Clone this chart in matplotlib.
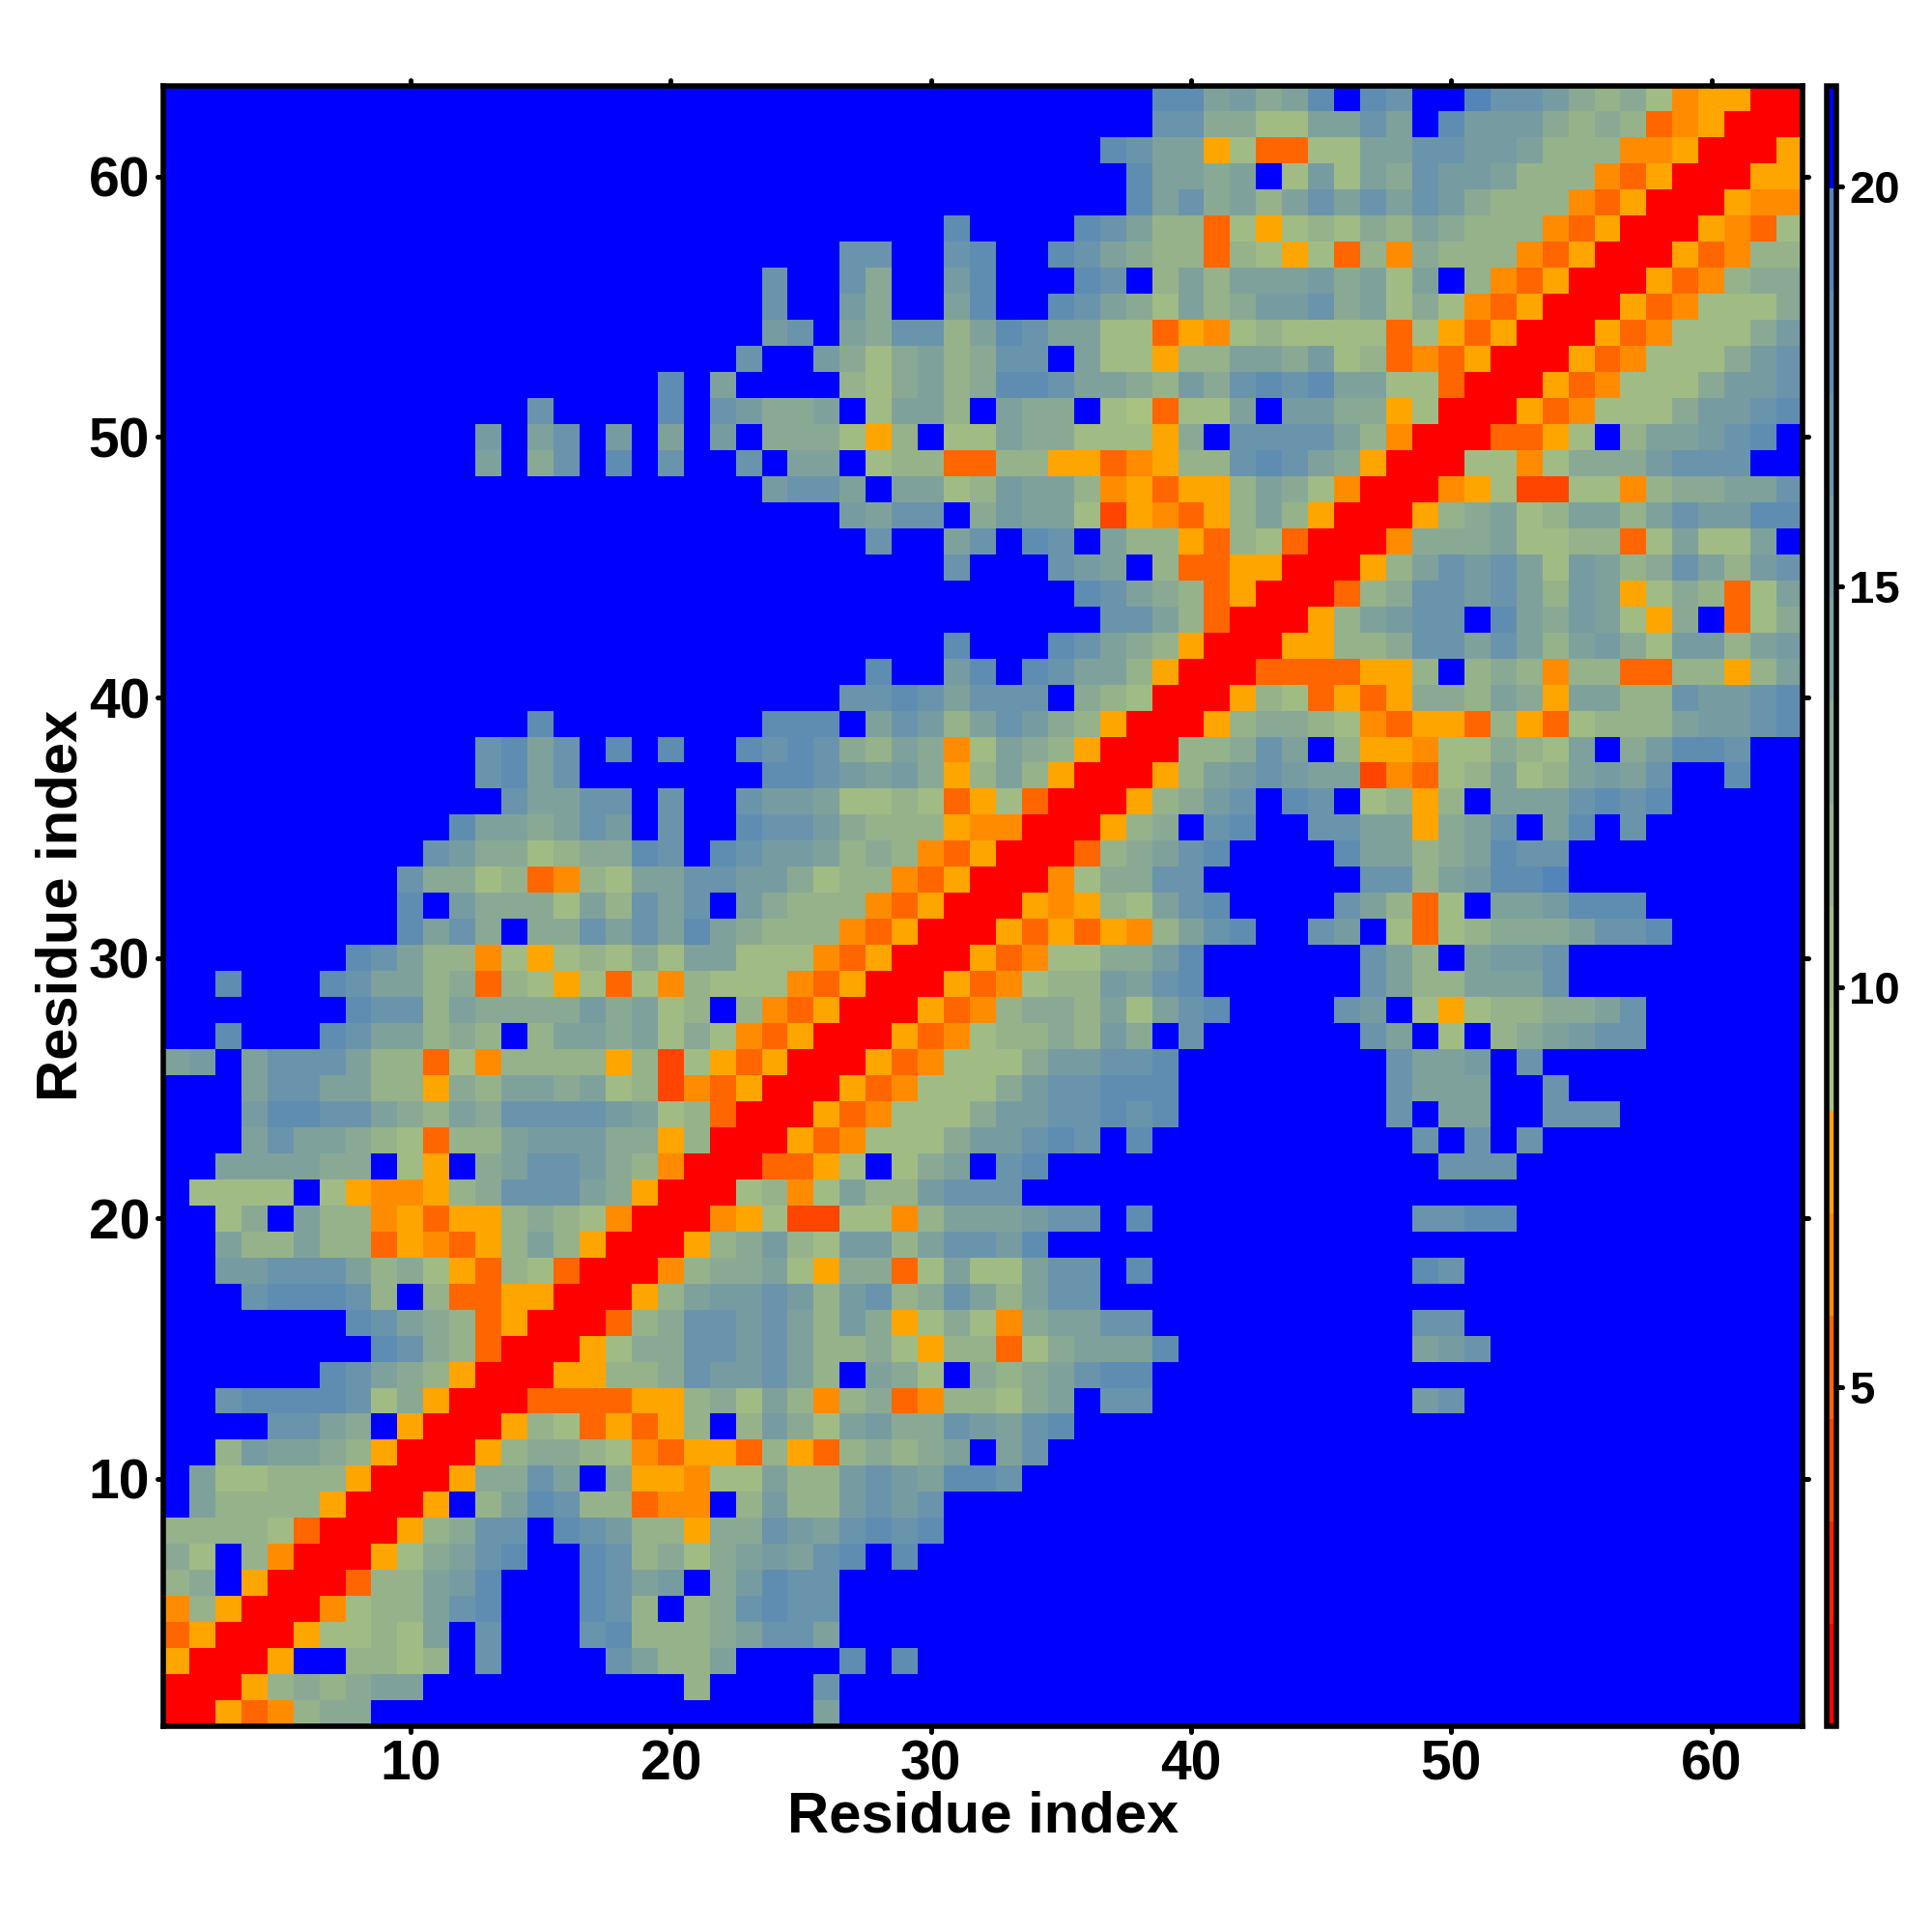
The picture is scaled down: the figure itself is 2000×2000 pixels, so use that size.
import numpy as np
import matplotlib
matplotlib.use("Agg")
import matplotlib.pyplot as plt
from matplotlib.colors import ListedColormap, BoundaryNorm
from matplotlib.markers import MarkerStyle, TICKDOWN, TICKUP, TICKLEFT, TICKRIGHT

plt.rcParams['font.family'] = ['Liberation Sans', 'DejaVu Sans']
plt.rcParams['font.weight'] = 'bold'

# distance value of each colour class, class 0 (red) to class F (blue)
level_values = [1.4, 2.7, 4.0, 5.2, 6.5, 7.8, 9.1, 10.4, 11.7, 13.0, 14.2, 15.5, 16.8, 18.1, 19.3, 20.6]
level_colors = ["#ff0000", "#ff2200", "#ff4500", "#ff6600", "#ff8c00", "#ffa500",
                "#a9c281", "#a1bb85", "#96b28a", "#8aa994", "#7ea29b", "#769ca2",
                "#6a94ab", "#5f8db1", "#5385ba", "#0000ff"]
bar_ticks = [5, 10, 15, 20]
axis_ticks = [10, 20, 30, 40, 50, 60]

# one string per residue, from 63 at the top to 1 at the bottom, read cell by cell
rows = [
    "FFFFFFFFFF FFFFFFFFFF FFFFFFFFFF FFFFFFFFDD AB9ADFDCFF ECCB989745 500",
    "FFFFFFFFFF FFFFFFFFFF FFFFFFFFFF FFFFFFFFCC 9977AACAFD BBB9898345 000",
    "FFFFFFFFFF FFFFFFFFFF FFFFFFFFFF FFFFFFDCAA 57337 7AACC BBA8884450 005",
    "FFFFFFFFFF FFFFFFFFFF FFFFFFFFFF FFFFFFFDAA 9AF7B7A9CB BA88843500 055",
    "FFFFFFFFFF FFFFFFFFFF FFFFFFFFFF FFFFFFFDAC 9A8ACACACB 9888435000 544",
    "FFFFFFFFFF FFFFFFFFFF FFFFFFFFFF DFFFFDCA88 37578798A9 8884350005 437",
    "FFFFFFFFFF FFFFFFFFFF FFFFFFCCFF CDFFDCA988 3875738498 8843500053 488",
    "FFFFFFFFFF FFFFFFFFFF FFFCFFC9FF BDFFFDCF8A 8AAAB9A7AF 8435000534 899",
    "FFFFFFFFFF FFFFFFFFFF FFFCFFB9FF ADFFDCA97A 89BBC9A797 4350005347 779",
    "FFFFFFFFFF FFFFFFFFFF FFFBCFA9CC 8ADCAA7735 4787777375 3500053477 79B",
    "FFFFFFFFFF FFFFFFFFFF FFCFFB979A 89CCFA7758 8AA9B78343 5000534777 9BC",
    "FFFFFFFFFF FFFFFFFFFD FAFFFF879A 89DDCAA98B 9CDCDAA773 0005347779 BBC",
    "FFFFFFFFFF FFFFCFFFFD FCB99AF7AA 8FA99F7637 7AFBB99570 005347779B BCD",
    "FFFFFFFFFF FFBFACFBFA FBF999758F 77A9977759 FCCCCA8400 03357F8AAB CDF",
    "FFFFFFFFFF FFAF9CFDFC FFCFAAF788 3388553458 8CDCA95000 7747999BCC CFF",
    "FFFFFFFFFF FFFFFFFFFF FFFBCCAFAA 78BAA84535 58A9740004 5722774899 AAC",
    "FFFFFFFFFF FFFFFFFFFF FFFFFFBACC F9BAA72543 58A8500058 9A78AA8ACB BDD",
    "FFFFFFFFFF FFFFFFFFFF FFFFFFFCFF ACFDCFA885 3873000499 9A778837A7 7AF",
    "FFFFFFFFFF FFFFFFFFFF FFFFFFFFFF CFFFCBAF83 35500058AC BCA7BA89CA 8BC",
    "FFFFFFFFFF FFFFFFFFFF FFFFFFFFFF FFFFFDCA98 35000389CC BCA8BA5798 37A",
    "FFFFFFFFFF FFFFFFFFFF FFFFFFFFFF FFFFFFCCA8 300058ABCC FDA9BA759F 379",
    "FFFFFFFFFF FFFFFFFFFF FFFFFFFFFF DFFFDCA985 00055889CC ACA8AB97BB 8AB",
    "FFFFFFFFFF FFFFFFFFFF FFFFFFFDFF BDFDCAA850 003333558F 8984883388 58A",
    "FFFFFFFFFF FFFFFFFFFF FFFFFFCCDC ACCCF98700 0587353599 8A95AA88CB BCD",
    "FFFFFFFFFF FFFFDFFFFF FFFDDDFACB 8ACB985000 5899874355 385378 88AB BCD",
    "FFFFFFFFFF FFCDACFDFD FFDCDC98A9 47A9850008 89CAF85547 7987AF9BDD CFF",
    "FFFFFFFFFF FFCDACFFFF FFFDDCBAB9 58A8500058 ABCBAA2437 8A78ABACFF DFF",
    "FFFFFFFFFF FFFCAACCFC FFCBBA7787 3573000589 BCFDCF7858 FAAACDCDFF FFF",
    "FFFFFFFFFF FDAA9ACBFC FFDCCB9888 544000589F CDFFCCAA59 ACFADFCFFF FFF",
    "FFFFFFFFFF CB997899DC FDCBBA8984 350003 89AC DFFFFDAA89 ADCCFFFFFF FFF",
    "FFFFFFFFFC 9978348 7AA CCBB978843 5000479 9CC FFFFFFCC8A BDDEFFFFFF FFF",
    "FFFFFFFFFD FB99 97A8CA CFB9888435 000545 87AC DFFFFCA837 FAABDDDFFF FFF",
    "FFFFFFFFFD AC9F99CACA DA98884350 005353548A CDFFCBF737 8999ACCDFF FFF",
    "FFFFFFFDCA 8847578797 AA77743500 05347799BD FFFFFFCA8F ABBCFFFFFF FFF",
    "FFDFFFDCAA 8938757374 8777435000 534788BACD FFFFFFCA88 AAACFFFFFF FFF",
    "FFFFFFFDCC 8A9999B9A7 8F84350005 348998A7AC DFFFFCBF75 78899ACFFF FFF",
    "FFDFFFDCAA 898F8AA9A7 9743500053 478898B9FC FFFFFFCAF7 F89ABCCFFF FFF",
    "ABFACCCA88 3748888582 7535000534 7779BBCCDF FFFFFFFCAA BFCFFFFFFF FFF",
    "FFFACCAA88 598AA9A782 4350005347 779BCCDDDF FFFFFFFCAA AFFCFFFFFF FFF",
    "FFFBDDCCA9 8A9CCCCBA7 8300053477 79BBCCDCDF FFFFFFFCFA AFFCCCFFFF FFF",
    "FFFACAA987 388ABBB995 8000534777 9BBCDCFDFF FFFFFFFFCF CFCFFFFFFF FFF",
    "FFAAAA99F7 5F9ACCB984 0003357F79 AFCDFFFFFF FFFFFFFFFC CCFFFFFFFF FFF",
    "F7777F7544 589CCCA950 007847A88B CCCFFFFFFF FFFFFFFFFF FFFFFFFFFF FFF",
    "FF79FA8845 3558987400 0457227748 AAABCCFDFF FFFFFFFFCC DDFFFFFFFF FFF",
    "FFA88A8835 4358A85000 589B87BB8A CCBDFFFFFF FFFFFFFFFF FFFFFFFFFF FFF",
    "FFBBCCCA89 7538730004 899A759937 A77ACCFDFF FFFFFFFFDC FFFFFFFFFF FFF",
    "FFFCDDDC8F 8335500058 ABBCB8BC89 CA8ACCFFFF FFFFFFFFFF FFFFFFFFFF FFF",
    "FFFFFFFDCA 9835000389 CCBCA8B957 9749AACCFF FFFFFFFFCC FFFFFFFFFF FFF",
    "FFFFFFFFDC 9830005799 CCBCA88975 88379AAADF FFFFFFFFAB CFFFFFFFFF FFF",
    "FFFFFFDCA9 8500055889 CBBCA8FA97 F989ACDDFF FFFFFFFFFF FFFFFFFFFF FFF",
    "FFCDDDDC79 5000333355 897A848934 8879AFCCFF FFFFFFFFBC FFFFFFFFFF FFF",
    "FFFFCCA9F5 0005873535 8F8B97AB99 CBACDFFFFF FFFFFFFFFF FFFFFFFFFF FFF",
    "FF8BAA9850 0058998743 5538538989 AFACFFFFFF FFFFFFFFFF FFFFFFFFFF FFF",
    "FA77888500 0599CAF955 477A88BCBA DDCFFFFFFF FFFFFFFFFF FFFFFFFFFF FFF",
    "FA88885000 5F8ADC8834 4F8B88BCBC FFFFFFFFFF FFFFFFFFFF FFFFFFFFFF FFF",
    "8888730005 89CCFDCB88 599CBACDCD FFFFFFFFFF FFFFFFFFFF FFFFFFFFFF FFF",
    "97F8400057 9ACDFFDC89 79ABACDFDF FFFFFFFFFF FFFFFFFFFF FFFFFFFFFF FFF",
    "89F5000388 ABDFFFDCAB F9BDCCFFFF FFFFFFFFFF FFFFFFFFFF FFFFFFFFFF FFF",
    "4850004788 ACDFFFDC8F 89CDCCFFFF FFFFFFFFFF FFFFFFFFFF FFFFFFFFFF FFF",
    "3500057787 AFCFFFCD88 89ACCAFFFF FFFFFFFFFF FFFFFFFFFF FFFFFFFFFF FFF",
    "50005FF887 8FCFFFFCA8 8AFFFFDFDF FFFFFFFFFF FFFFFFFFFF FFFFFFFFFF FFF",
    "0005898 9AA FFFFFFFFFF 8FFFFCFFFF FFFFFFFFFF FFFFFFFFFF FFFFFFFFFF FFF",
    "00534899FF FFFFFFFFFF FFFFFAFFFF FFFFFFFFFF FFFFFFFFFF FFFFFFFFFF FFF",
]

rows = [r.replace(" ", "") for r in rows]
bad = [(63 - i, len(r)) for i, r in enumerate(rows) if len(r) != 63]
assert not bad and len(rows) == 63, bad

distance = np.array([[level_values[int(ch, 16)] for ch in r] for r in rows[::-1]])

fig = plt.figure(figsize=(20, 20), dpi=100)
ax = fig.add_axes([169 / 2000, 1 - 1787 / 2000, 1697 / 2000, 1698.5 / 2000])
cax = fig.add_axes([1891 / 2000, 1 - 1787 / 2000, 9.5 / 2000, 1698.5 / 2000])

cmap = ListedColormap(level_colors)
norm = BoundaryNorm(np.linspace(0.77, 21.26, 17), cmap.N)
edges = np.arange(0.5, 64.5)
mesh = ax.pcolormesh(edges, edges, distance, cmap=cmap, norm=norm, antialiased=False, linewidth=0)

ax.set_xlim(0.5, 63.5)
ax.set_ylim(0.5, 63.5)
ax.set_xticks(axis_ticks)
ax.set_yticks(axis_ticks)
ax.tick_params(axis='both', which='major', direction='out', length=4, width=3.6,
               labelsize=41, top=True, right=True)
ax.tick_params(axis='x', pad=6)
ax.tick_params(axis='y', pad=6)
for spine in ax.spines.values():
    spine.set_linewidth(4)
for t in ax.xaxis.get_major_ticks():
    t.tick1line.set_marker(MarkerStyle(TICKDOWN, capstyle='round'))
    t.tick2line.set_marker(MarkerStyle(TICKUP, capstyle='round'))
for t in ax.yaxis.get_major_ticks():
    t.tick1line.set_marker(MarkerStyle(TICKLEFT, capstyle='round'))
    t.tick2line.set_marker(MarkerStyle(TICKRIGHT, capstyle='round'))

fig.text(1018 / 2000, 1 - 1881 / 2000, "Residue index", fontsize=43, fontweight='bold', ha='center', va='center')
fig.text(64 / 2000, 1 - 937 / 2000, "Residue index", fontsize=43, fontweight='bold', ha='center', va='center', rotation=90)

cb = fig.colorbar(mesh, cax=cax, ticks=bar_ticks, spacing='proportional', drawedges=False)
cb.outline.set_linewidth(4)
cb.ax.tick_params(axis='y', direction='out', length=4, width=3.6, labelsize=34, pad=6)
for t in cb.ax.yaxis.get_major_ticks():
    t.tick2line.set_marker(MarkerStyle(TICKRIGHT, capstyle='round'))
cb.ax.minorticks_off()

fig.savefig("out.png", dpi=100, facecolor="white")
